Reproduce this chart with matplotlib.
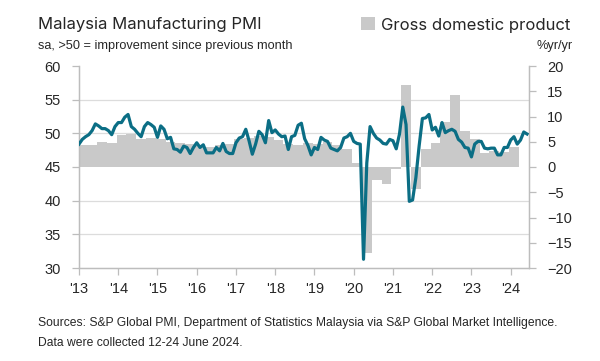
import matplotlib
matplotlib.use("Agg")
import matplotlib.pyplot as plt
import numpy as np

# ---- data ----
pmi_2013_2019 = [
    48.4, 49.1, 49.5, 49.8, 50.4, 51.4, 51.1, 50.7, 50.7, 50.4, 49.8, 51.0,   # 2013
    51.6, 51.6, 52.4, 52.8, 51.0, 50.6, 50.0, 49.5, 51.0, 51.6, 51.3, 50.9,   # 2014
    49.4, 51.1, 50.6, 49.2, 49.4, 47.7, 47.6, 47.2, 48.1, 47.9, 47.0, 47.9,   # 2015
    48.6, 47.9, 48.3, 47.1, 47.1, 47.1, 47.9, 47.4, 48.5, 47.3, 47.0, 47.0,   # 2016
    48.6, 49.3, 49.5, 50.6, 48.9, 46.9, 48.4, 50.3, 49.8, 48.6, 51.9, 50.1,   # 2017
    50.5, 49.9, 49.5, 49.6, 47.6, 49.5, 49.7, 51.2, 51.5, 49.2, 48.2, 46.8,   # 2018
    47.9, 47.6, 49.4, 49.0, 48.8, 47.8, 47.6, 47.4, 47.9, 49.3, 49.5, 50.0,   # 2019
]
pmi_2020_2024 = [
    48.8, 48.5, 48.4, 31.3, 45.6, 51.0, 50.0, 49.3, 49.0, 48.5, 48.4, 49.1,   # 2020
    48.9, 47.7, 49.9, 53.9, 51.3, 39.9, 40.1, 43.4, 48.1, 52.2, 52.3, 52.8,   # 2021
    50.5, 50.9, 49.6, 51.6, 50.1, 50.4, 50.6, 50.3, 49.1, 48.7, 47.9, 47.8,   # 2022
    46.5, 48.4, 48.8, 48.8, 47.8, 47.7, 47.8, 47.8, 46.8, 46.8, 47.9, 47.9,   # 2023
    49.0, 49.5, 48.4, 49.0, 50.2, 49.9,                                       # 2024
]
pmi = pmi_2013_2019 + pmi_2020_2024

gdp_quarterly = [
    4.4, 4.4, 5.0, 4.7,      # 2013
    6.3, 6.5, 5.6, 5.7,      # 2014
    5.6, 4.9, 4.7, 4.5,      # 2015
    4.2, 4.0, 4.3, 4.5,      # 2016
    5.6, 5.8, 6.2, 5.9,      # 2017
    5.4, 4.5, 4.4, 4.7,      # 2018
    4.5, 4.9, 4.4, 3.6,      # 2019
    0.7, -17.1, -2.5, -3.3,  # 2020
    -0.4, 16.2, -4.4, 3.5,   # 2021
    4.8, 9.0, 14.3, 7.2,     # 2022
    5.5, 2.8, 3.2, 2.9,      # 2023
    4.0,                     # 2024
]

year_labels = ["'13", "'14", "'15", "'16", "'17", "'18", "'19", "'20", "'21", "'22", "'23", "'24"]
pmi_ticks = [30, 35, 40, 45, 50, 55, 60]
gdp_ticks = [-20, -15, -10, -5, 0, 5, 10, 15, 20]

# ---- styling ----
LINE_C = "#0b6e85"
BAR_C = "#c9c9c9"
AX_C = "#bdbdbd"
GRID_C = "#dcdcdc"
TXT_C = "#262626"
plt.rcParams['font.family'] = ['Liberation Sans', 'DejaVu Sans']
HEAD_FONT = ['Inter', 'Liberation Sans', 'DejaVu Sans']

fig = plt.figure(figsize=(6.0, 3.61), dpi=100)
ax = fig.add_axes([79/600, 1-268/361, (529-79)/600, (268-66)/361])
ax2 = ax.twinx()
ax.set_zorder(ax2.get_zorder() + 1)
ax.patch.set_visible(False)

months = np.arange(len(pmi))
q_start = np.arange(len(gdp_quarterly)) * 3 - 0.5
bars = ax2.bar(q_start, gdp_quarterly, width=3, align='edge', color=BAR_C,
               linewidth=0, zorder=2, label='Gross domestic product')
ax.plot(months, pmi, color=LINE_C, lw=2.3, solid_joinstyle='round', zorder=3)

ax.set_xlim(0, 137.6)
ax.set_ylim(30, 60)
ax2.set_ylim(-20, 20)
ax.set_yticks(pmi_ticks)
ax2.set_yticks(gdp_ticks)
ax.set_xticks(np.arange(len(year_labels)) * 12)
ax.set_xticklabels(year_labels)

# gridlines at the PMI ticks, drawn below the bars
lo, hi = ax.get_ylim()
lo2, hi2 = ax2.get_ylim()
grid_pos = [lo2 + (t - lo) / (hi - lo) * (hi2 - lo2) for t in pmi_ticks]
ax2.set_yticks(grid_pos, minor=True)
ax2.yaxis.grid(True, which='minor', color=GRID_C, lw=0.9)
ax2.tick_params(axis='y', which='minor', length=0)
ax2.set_axisbelow(True)

for a in (ax, ax2):
    a.spines['top'].set_visible(False)
    for s in ('left', 'right', 'bottom'):
        a.spines[s].set_color(AX_C)
        a.spines[s].set_linewidth(0.9)
ax.tick_params(axis='both', which='major', color=AX_C, length=5, width=0.9,
               labelsize=10.5, labelcolor=TXT_C, pad=8)
ax2.tick_params(axis='y', which='major', color=AX_C, length=5, width=0.9,
                labelsize=10.5, labelcolor=TXT_C, pad=8)
ax.tick_params(axis='x', pad=5)

# titles
fig.text(38/600, 1-25/361, "Malaysia Manufacturing PMI", fontsize=12, color=TXT_C,
         va='center', ha='left', family=HEAD_FONT)
fig.text(38/600, 1-46/361, "sa, >50 = improvement since previous month", fontsize=9.2,
         color=TXT_C, va='center', ha='left')
fig.text(573/600, 1-46/361, "%yr/yr", fontsize=9.2, color=TXT_C, va='center', ha='right')
leg = fig.legend(handles=[bars], loc='center right', bbox_to_anchor=(579/600, 1-25/361),
                 frameon=False, fontsize=12, handlelength=0.8, handleheight=0.8,
                 handletextpad=0.4, borderpad=0, labelcolor=TXT_C,
                 prop={'family': HEAD_FONT, 'size': 12})

fig.text(38/600, 1-323/361,
         "Sources: S&P Global PMI, Department of Statistics Malaysia via S&P Global Market Intelligence.",
         fontsize=8.7, color=TXT_C, va='center', ha='left')
fig.text(38/600, 1-343/361, "Data were collected 12-24 June 2024.", fontsize=8.7,
         color=TXT_C, va='center', ha='left')

fig.savefig("out.png", dpi=100, facecolor='white')
